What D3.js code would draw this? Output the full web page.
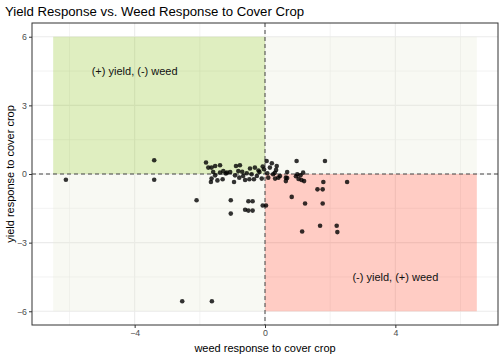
<!DOCTYPE html>
<html>
<head>
<meta charset="utf-8">
<script src="https://cdn.jsdelivr.net/npm/d3@7"></script>
<style>
  body { margin: 0; background: #fff; }
  text { font-family: "Liberation Sans", Arial, sans-serif; }
</style>
</head>
<body>
<svg id="chart"></svg>
<script>
let width = 504
let height = 360
let margin = {top: 23, right: 6, bottom: 35, left: 32}

// weed response (x) and yield response (y) for each study
let weedResp = [
  -6.11, -3.40, -3.40, -2.10, -1.81, -1.74, -1.64, -1.53, -1.38, -1.59,
  -1.53, -1.38, -1.28, -1.17, -1.07, -1.64, -1.66, -1.46, -1.30, -0.95,
  -0.89, -0.77, -0.82, -0.92, -0.79, -0.67, -0.56, -0.46, -0.41, -0.61,
  -0.48, -0.31, -0.25, -0.34, -0.17, -0.10, -0.07, -0.03, 0.05, 0.07,
  0.15, 0.21, 0.10, 0.25, 0.36, 0.34, 0.31, 0.41, 0.46, 0.68,
  0.64, 0.64, 0.97, 0.99, 1.09, 1.12, 1.20, 1.17, 1.84, 1.79,
  1.61, 1.77, 0.82, 1.23, 1.77, -1.05, -0.51, -0.38, -0.07, 0.03,
  -1.05, -0.61, -0.51, -0.38, 2.52, 1.14, 1.69, 2.20, 2.22, -2.54,
  -1.63, 0.68, 0.95, 1.03, -1.20, -0.70, -0.20, 0.30
]
let yieldResp = [
  -0.25, 0.60, -0.25, -1.15, 0.50, 0.28, 0.28, 0.35, 0.38, 0.09,
  -0.06, 0.06, 0.13, 0.06, 0.09, -0.20, -0.35, -0.28, -0.23, -0.35,
  0.35, 0.38, 0.13, -0.06, -0.16, -0.09, 0.03, 0.24, -0.01, -0.26,
  -0.23, 0.28, -0.09, -0.23, 0.09, -0.20, 0.33, 0.21, 0.57, 0.03,
  0.28, 0.47, -0.16, -0.01, 0.35, 0.18, -0.20, -0.16, -0.09, 0.09,
  -0.16, -0.31, 0.57, -0.01, -0.06, -0.26, -0.31, 0.06, 0.57, -0.35,
  -0.67, -0.67, -1.00, -1.29, -1.29, -1.15, -1.19, -1.19, -1.38, -1.38,
  -1.73, -1.56, -1.60, -1.60, -0.35, -2.51, -2.26, -2.26, -2.54, -5.56,
  -5.56, -0.18, -0.10, -0.22, 0.02, 0.10, 0.15, 0.05
]

// quadrant shading: [x0, x1, y0, y1, colour]
let quadX0 = [-6.5, 0, -6.5, 0]
let quadX1 = [0, 6.5, 0, 6.5]
let quadY0 = [0, 0, -6, -6]
let quadY1 = [6, 6, 0, 0]
let quadFill = ['#94c62d', '#e8ebd7', '#e8ebd7', '#ff553a']

let labels = ['(+) yield, (-) weed', '(-) yield, (+) weed']
let labelX = [-4, 4]
let labelY = [4.5, -4.5]

let xTicks = [-4, 0, 4]
let xMinor = [-6, -2, 2, 6]
let yTicks = [-6, -3, 0, 3, 6]
let yMinor = [-4.5, -1.5, 1.5, 4.5]

let svg = d3.select('#chart')
  .attr('width', width)
  .attr('height', height)

let x = d3.scaleLinear()
  .domain([-7.15, 7.15])
  .range([margin.left, width - margin.right])

let y = d3.scaleLinear()
  .domain([-6.6, 6.6])
  .range([height - margin.bottom, margin.top])

let plotW = width - margin.left - margin.right
let plotH = height - margin.top - margin.bottom

// grid
let grid = svg.append('g')
grid.selectAll('.xminor').data(xMinor).enter().append('line')
  .attr('x1', d => x(d)).attr('x2', d => x(d))
  .attr('y1', margin.top).attr('y2', margin.top + plotH)
  .attr('stroke', '#ebebeb').attr('stroke-width', 0.6)
grid.selectAll('.yminor').data(yMinor).enter().append('line')
  .attr('x1', margin.left).attr('x2', margin.left + plotW)
  .attr('y1', d => y(d)).attr('y2', d => y(d))
  .attr('stroke', '#ebebeb').attr('stroke-width', 0.6)
grid.selectAll('.xmajor').data(xTicks).enter().append('line')
  .attr('x1', d => x(d)).attr('x2', d => x(d))
  .attr('y1', margin.top).attr('y2', margin.top + plotH)
  .attr('stroke', '#ebebeb').attr('stroke-width', 1.1)
grid.selectAll('.ymajor').data(yTicks).enter().append('line')
  .attr('x1', margin.left).attr('x2', margin.left + plotW)
  .attr('y1', d => y(d)).attr('y2', d => y(d))
  .attr('stroke', '#ebebeb').attr('stroke-width', 1.1)

// quadrants
svg.append('g').selectAll('rect')
  .data(quadFill)
  .enter()
  .append('rect')
  .attr('x', (d, i) => x(quadX0[i]))
  .attr('width', (d, i) => x(quadX1[i]) - x(quadX0[i]))
  .attr('y', (d, i) => y(quadY1[i]))
  .attr('height', (d, i) => y(quadY0[i]) - y(quadY1[i]))
  .attr('fill', d => d)
  .attr('fill-opacity', 0.3)

// dashed reference lines
svg.append('line')
  .attr('x1', x(0)).attr('x2', x(0))
  .attr('y1', margin.top).attr('y2', margin.top + plotH)
  .attr('stroke', '#444').attr('stroke-width', 1).attr('stroke-dasharray', '4,3')
svg.append('line')
  .attr('x1', margin.left).attr('x2', margin.left + plotW)
  .attr('y1', y(0)).attr('y2', y(0))
  .attr('stroke', '#444').attr('stroke-width', 1).attr('stroke-dasharray', '4,3')

// points
svg.append('g').selectAll('circle')
  .data(weedResp)
  .enter()
  .append('circle')
  .attr('cx', d => x(d))
  .attr('cy', (d, i) => y(yieldResp[i]))
  .attr('r', 2.3)
  .attr('fill', '#000')
  .attr('fill-opacity', 0.8)

// quadrant labels
svg.append('g').selectAll('text')
  .data(labels)
  .enter()
  .append('text')
  .attr('x', (d, i) => x(labelX[i]))
  .attr('y', (d, i) => y(labelY[i]))
  .attr('dy', '0.35em')
  .attr('text-anchor', 'middle')
  .attr('font-size', 11)
  .attr('fill', '#111')
  .text(d => d)

// panel border
svg.append('rect')
  .attr('x', margin.left).attr('y', margin.top)
  .attr('width', plotW).attr('height', plotH)
  .attr('fill', 'none').attr('stroke', '#333').attr('stroke-width', 1)

// axes
let xAxis = svg.append('g')
  .attr('transform', `translate(0, ${margin.top + plotH})`)
  .call(d3.axisBottom(x).tickValues(xTicks).tickSize(3).tickPadding(2))
let yAxis = svg.append('g')
  .attr('transform', `translate(${margin.left}, 0)`)
  .call(d3.axisLeft(y).tickValues(yTicks).tickSize(3).tickPadding(2))

;[xAxis, yAxis].forEach(a => {
  a.select('.domain').remove()
  a.selectAll('line').attr('stroke', '#333')
  a.selectAll('text')
    .attr('fill', '#4d4d4d')
    .attr('font-size', 8.8)
    .style('font-family', '"Liberation Sans", Arial, sans-serif')
})

// titles
svg.append('text')
  .attr('x', 5).attr('y', 16)
  .attr('font-size', 13.2)
  .attr('fill', '#000')
  .text('Yield Response vs. Weed Response to Cover Crop')

svg.append('text')
  .attr('x', margin.left + plotW / 2).attr('y', 352)
  .attr('text-anchor', 'middle')
  .attr('font-size', 11)
  .attr('fill', '#000')
  .text('weed response to cover crop')

svg.append('text')
  .attr('transform', `translate(14, ${margin.top + plotH / 2}) rotate(-90)`)
  .attr('text-anchor', 'middle')
  .attr('font-size', 11)
  .attr('fill', '#000')
  .text('yield response to cover crop')
</script>
</body>
</html>
